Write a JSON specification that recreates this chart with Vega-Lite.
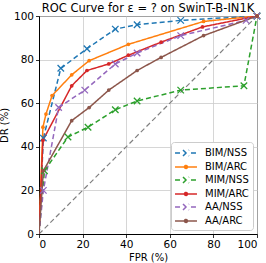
{
  "$schema": "https://vega.github.io/schema/vega-lite/v6.json",
  "autosize": "none",
  "width": 218,
  "height": 218,
  "padding": {"left": 39, "top": 16, "right": 9, "bottom": 29},
  "background": "white",
  "title": {"text": "ROC Curve for ε = ? on SwinT-B-IN1K", "font": "DejaVu Sans", "fontSize": 11.5, "fontWeight": "normal", "color": "black", "offset": -4, "anchor": "middle"},
  "config": {
    "view": {"stroke": "black", "strokeWidth": 1},
    "axis": {
      "domainColor": "black", "domainWidth": 1, "tickColor": "black", "tickSize": 3.5, "tickWidth": 0.8,
      "labelFont": "DejaVu Sans", "labelFontSize": 10.5, "labelColor": "black", "labelPadding": 2,
      "titleFont": "DejaVu Sans", "titleFontSize": 10, "titleFontWeight": "normal", "titleColor": "black",
      "gridColor": "#cccccc", "gridWidth": 0.8
    }
  },
  "datasets": {
    "roc": [
      {"s": "BIM/NSS", "fpr": 0, "dr": 0}, {"s": "BIM/NSS", "fpr": 2, "dr": 44}, {"s": "BIM/NSS", "fpr": 10, "dr": 76}, {"s": "BIM/NSS", "fpr": 22, "dr": 85}, {"s": "BIM/NSS", "fpr": 35, "dr": 94}, {"s": "BIM/NSS", "fpr": 45, "dr": 96}, {"s": "BIM/NSS", "fpr": 65, "dr": 98}, {"s": "BIM/NSS", "fpr": 100, "dr": 100},
      {"s": "BIM/ARC", "fpr": 0, "dr": 0}, {"s": "BIM/ARC", "fpr": 1.8, "dr": 49}, {"s": "BIM/ARC", "fpr": 3.2, "dr": 55}, {"s": "BIM/ARC", "fpr": 6, "dr": 63.5}, {"s": "BIM/ARC", "fpr": 15, "dr": 73}, {"s": "BIM/ARC", "fpr": 23, "dr": 79.5}, {"s": "BIM/ARC", "fpr": 41, "dr": 87}, {"s": "BIM/ARC", "fpr": 75.5, "dr": 97.5}, {"s": "BIM/ARC", "fpr": 100, "dr": 100},
      {"s": "MIM/NSS", "fpr": 0, "dr": 0}, {"s": "MIM/NSS", "fpr": 2.5, "dr": 29}, {"s": "MIM/NSS", "fpr": 13.3, "dr": 44.5}, {"s": "MIM/NSS", "fpr": 22.5, "dr": 49}, {"s": "MIM/NSS", "fpr": 35, "dr": 57}, {"s": "MIM/NSS", "fpr": 45, "dr": 61}, {"s": "MIM/NSS", "fpr": 65, "dr": 66}, {"s": "MIM/NSS", "fpr": 94, "dr": 68}, {"s": "MIM/NSS", "fpr": 100, "dr": 100},
      {"s": "MIM/ARC", "fpr": 0, "dr": 0}, {"s": "MIM/ARC", "fpr": 1.8, "dr": 43}, {"s": "MIM/ARC", "fpr": 15, "dr": 68}, {"s": "MIM/ARC", "fpr": 22, "dr": 75}, {"s": "MIM/ARC", "fpr": 32, "dr": 78}, {"s": "MIM/ARC", "fpr": 41, "dr": 82}, {"s": "MIM/ARC", "fpr": 56, "dr": 88}, {"s": "MIM/ARC", "fpr": 75, "dr": 95}, {"s": "MIM/ARC", "fpr": 100, "dr": 100},
      {"s": "AA/NSS", "fpr": 0, "dr": 0}, {"s": "AA/NSS", "fpr": 2, "dr": 20}, {"s": "AA/NSS", "fpr": 9, "dr": 58}, {"s": "AA/NSS", "fpr": 21, "dr": 66}, {"s": "AA/NSS", "fpr": 35, "dr": 78}, {"s": "AA/NSS", "fpr": 45, "dr": 83}, {"s": "AA/NSS", "fpr": 65, "dr": 91}, {"s": "AA/NSS", "fpr": 95, "dr": 98}, {"s": "AA/NSS", "fpr": 100, "dr": 100},
      {"s": "AA/ARC", "fpr": 0, "dr": 0}, {"s": "AA/ARC", "fpr": 2, "dr": 29}, {"s": "AA/ARC", "fpr": 15, "dr": 52}, {"s": "AA/ARC", "fpr": 23, "dr": 58}, {"s": "AA/ARC", "fpr": 32, "dr": 66}, {"s": "AA/ARC", "fpr": 45, "dr": 75}, {"s": "AA/ARC", "fpr": 56, "dr": 81}, {"s": "AA/ARC", "fpr": 75.5, "dr": 91}, {"s": "AA/ARC", "fpr": 100, "dr": 100}
    ],
    "diag": [{"fpr": 0, "dr": 0}, {"fpr": 100, "dr": 100}]
  },
  "layer": [
    {
      "data": {"name": "diag"},
      "mark": {"type": "line", "color": "#7f7f7f", "strokeWidth": 1.2, "strokeDash": [5, 3], "clip": true},
      "encoding": {
        "x": {"field": "fpr", "type": "quantitative", "scale": {"domain": [0, 100], "nice": false}, "axis": {"values": [0, 20, 40, 60, 80, 100], "title": "FPR (%)", "grid": true, "titlePadding": 2.5}},
        "y": {"field": "dr", "type": "quantitative", "scale": {"domain": [0, 100], "nice": false}, "axis": {"values": [0, 20, 40, 60, 80, 100], "title": "DR (%)", "grid": true, "titlePadding": 4}}
      }
    },
    {
      "data": {"name": "roc"},
      "mark": {"type": "line", "strokeWidth": 1.5, "clip": true},
      "encoding": {
        "x": {"field": "fpr", "type": "quantitative"},
        "y": {"field": "dr", "type": "quantitative"},
        "color": {
          "field": "s", "type": "nominal",
          "scale": {"domain": ["BIM/NSS", "BIM/ARC", "MIM/NSS", "MIM/ARC", "AA/NSS", "AA/ARC"], "range": ["#1f77b4", "#ff7f0e", "#2ca02c", "#d62728", "#9467bd", "#8c564b"]},
          "legend": {
            "title": null, "orient": "bottom-right", "offset": 4,
            "labelFont": "DejaVu Sans", "labelFontSize": 10, "labelColor": "black",
            "symbolSize": 144, "symbolStrokeWidth": 1.5, "symbolType": "stroke", "symbolOffset": 4,
            "strokeColor": "#cccccc", "fillColor": "white", "cornerRadius": 3, "padding": 4,
            "rowPadding": 1, "labelOffset": 12,
            "encode": {
              "symbols": {"update": {
                "shape": {"signal": "indexof(datum.value, 'NSS') >= 0 ? 'M-1.83,0H-0.83M0.83,0H1.83M-0.5,-0.5L0.5,0.5M-0.5,0.5L0.5,-0.5' : 'M-1.83,0H1.83M0.25,0A0.25,0.25 0 1,1 -0.25,0A0.25,0.25 0 1,1 0.25,0'"},
                "fill": {"scale": "color", "field": "value"},
                "strokeDash": {"value": []}
              }}
            }
          }
        },
        "strokeDash": {
          "field": "s", "type": "nominal",
          "scale": {"domain": ["BIM/NSS", "BIM/ARC", "MIM/NSS", "MIM/ARC", "AA/NSS", "AA/ARC"], "range": [[5, 3], [1, 0], [5, 3], [1, 0], [5, 3], [1, 0]]},
          "legend": null
        }
      }
    },
    {
      "data": {"name": "roc"},
      "transform": [{"filter": "indexof(datum.s, 'NSS') >= 0 && datum.fpr > 0"}],
      "mark": {"type": "point", "shape": "M-1,-1L1,1M-1,1L1,-1", "size": 42, "filled": false, "strokeWidth": 1.3, "opacity": 1, "clip": false},
      "encoding": {
        "x": {"field": "fpr", "type": "quantitative"},
        "y": {"field": "dr", "type": "quantitative"},
        "color": {"field": "s", "type": "nominal", "legend": null}
      }
    },
    {
      "data": {"name": "roc"},
      "transform": [{"filter": "indexof(datum.s, 'ARC') >= 0 && datum.fpr > 0"}],
      "mark": {"type": "point", "shape": "circle", "size": 14, "filled": true, "opacity": 1, "clip": false},
      "encoding": {
        "x": {"field": "fpr", "type": "quantitative"},
        "y": {"field": "dr", "type": "quantitative"},
        "color": {"field": "s", "type": "nominal", "legend": null}
      }
    }
  ]
}
